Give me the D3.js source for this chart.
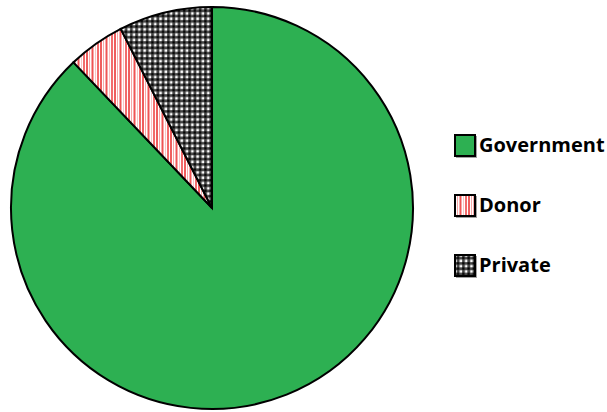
<!DOCTYPE html>
<html><head><meta charset="utf-8">
<script src="https://cdn.jsdelivr.net/npm/d3@7"></script>
<style>body{margin:0;background:#fff}svg{display:block}</style>
</head><body>
<script>
const categories = ["Government", "Donor", "Private"];
const values = [87.9, 4.6, 7.5];
const colors = ["#2db052", "url(#pDonor)", "url(#pPrivate)"];

const W = 607, H = 412, cx = 212, cy = 208, r = 201;
const svg = d3.select("body").append("svg").attr("width", W).attr("height", H);
const defs = svg.append("defs");

// Donor: vertical red stripes
const pd = defs.append("pattern").attr("id", "pDonor").attr("patternUnits", "userSpaceOnUse")
  .attr("width", 14).attr("height", 10);
pd.append("rect").attr("width", 14).attr("height", 10).attr("fill", "#fff");
[[0,2,"#ee5e5e"],[3,1,"#f7a8a8"],[5.5,2,"#ef5555"],[9,1,"#f9c4c4"],[11,2,"#f26c6c"]].forEach(([x,w,c]) =>
  pd.append("rect").attr("x", x).attr("width", w).attr("height", 10).attr("fill", c));

// Private: checker dots
const pp = defs.append("pattern").attr("id", "pPrivate").attr("patternUnits", "userSpaceOnUse")
  .attr("width", 5.3).attr("height", 5.3);
pp.append("rect").attr("width", 5.3).attr("height", 5.3).attr("fill", "#444");
pp.append("rect").attr("x", 0.3).attr("y", 0.3).attr("width", 2.5).attr("height", 2.5).attr("fill", "#fff");
pp.append("rect").attr("x", 2.9).attr("y", 2.9).attr("width", 2.2).attr("height", 2.2).attr("fill", "#000");

const pie = d3.pie().sort(null).value(d => d.v);
const arcs = pie(categories.map((c, i) => ({c, v: values[i], i})));
const arc = d3.arc().innerRadius(0).outerRadius(r);

svg.append("g").attr("transform", `translate(${cx},${cy})`)
  .selectAll("path").data(arcs).join("path")
  .attr("d", arc)
  .attr("fill", d => colors[d.data.i])
  .attr("stroke", "#000").attr("stroke-width", 2).attr("stroke-linejoin", "miter");

const lg = svg.append("g");
const rows = lg.selectAll("g").data(categories).join("g")
  .attr("transform", (d, i) => `translate(454,${134 + i * 60})`);
rows.append("rect").attr("x", 2).attr("y", 2).attr("width", 21).attr("height", 22).attr("fill", "#444").attr("opacity", 0.5);
rows.append("rect").attr("x", 1).attr("y", 1).attr("width", 20).attr("height", 21)
  .attr("fill", (d, i) => colors[i]).attr("stroke", "#000").attr("stroke-width", 2);
rows.append("text").attr("x", 25).attr("y", 18)
  .attr("font-family", "Open Sans").attr("font-weight", "bold").attr("font-size", 20)
  .attr("fill", "#000").text(d => d);
</script>
</body></html>
